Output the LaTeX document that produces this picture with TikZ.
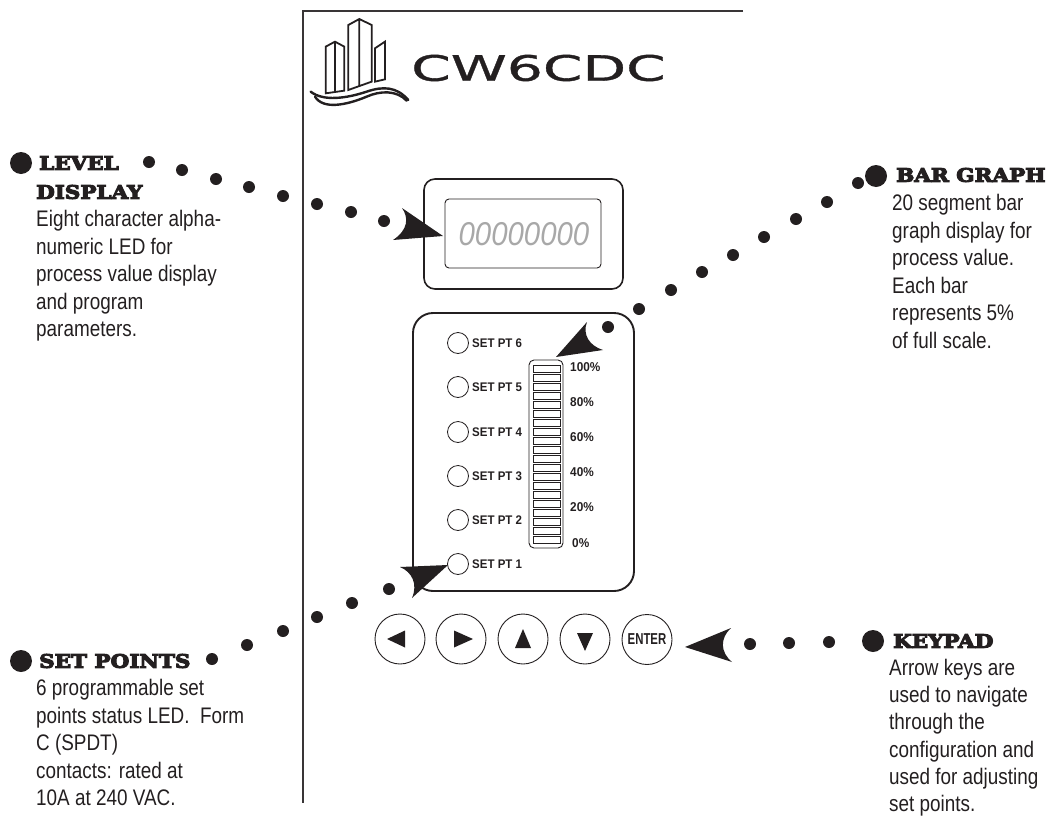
\documentclass[tikz,border=0pt]{standalone}
\usepackage{fontspec}
\setmainfont{Liberation Sans}
\newfontfamily\bodyfont[FakeStretch=0.84]{Liberation Sans}
\newfontfamily\headfont[FakeStretch=1.16,FakeBold=6]{DejaVu Serif Bold}
\newfontfamily\panelfont[FakeStretch=0.92]{Liberation Sans Bold}
\newfontfamily\enterfont[FakeStretch=0.72]{Liberation Sans Bold}
\newfontfamily\logofont[FakeStretch=1.62,FakeBold=1]{DejaVu Sans}
\newfontfamily\lcdfont[FakeStretch=0.89]{Liberation Sans Italic}
\definecolor{ink}{HTML}{231F20}
\definecolor{lcd}{HTML}{A8A8A8}
\tikzset{
  bodytext/.style={anchor=north west,inner sep=0pt,align=left,text=ink,font=\bodyfont\fontsize{22.5}{27.6}\selectfont},
  keybody/.style={anchor=north west,inner sep=0pt,align=left,text=ink,font=\bodyfont\fontsize{22.5}{27.2}\selectfont},
  headtext/.style={anchor=west,inner sep=0pt,text=ink,font=\headfont\fontsize{18.5}{20}\selectfont},
  smalldot/.style={circle,fill=ink,inner sep=0pt,minimum size=12pt},
  bigdot/.style={circle,fill=ink,inner sep=0pt,minimum size=22pt},
  ledlamp/.style={circle,draw=ink,line width=0.8pt,inner sep=0pt,minimum size=21pt},
  ledlabel/.style={anchor=west,inner sep=0pt,text=ink,font=\panelfont\fontsize{12.5}{13}\selectfont},
  pctlabel/.style={anchor=west,inner sep=0pt,text=ink,font=\panelfont\fontsize{12.8}{13}\selectfont},
  keyround/.style={circle,draw=ink,line width=0.9pt,inner sep=0pt,minimum size=50pt},
  barseg/.style={draw=ink,line width=0.8pt,fill=white},
  logoline/.style={draw=ink,line width=1.8pt,line join=miter},
  wave/.style={draw=ink,line width=2.4pt,line cap=round}
}
\begin{document}
\begin{tikzpicture}[x=1pt,y=-1pt]
\useasboundingbox (0,0) rectangle (1053,817);
\draw[ink!90,line width=1.3pt] (743,11) -- (303,11) -- (303,803);
% logo
\begin{scope}[xshift=290pt,x=0.3333pt,y=-0.3333pt]
\draw[logoline] (107,140) -- (135,125) -- (163,140) -- (163,272) -- (107,280) -- cycle (135,125) -- (135,277);
\draw[logoline] (175,75) -- (208,57) -- (245,75) -- (245,245) -- (175,270) -- cycle (208,57) -- (208,258);
\draw[logoline] (255,145) -- (285,125) -- (285,238) -- (255,245) -- cycle;
\draw[wave] (62,275) .. controls (100,305) and (170,295) .. (230,275) .. controls (280,258) and (320,260) .. (355,300);
\draw[wave] (75,290) .. controls (100,330) and (170,315) .. (230,290) .. controls (270,272) and (320,270) .. (350,302);
\end{scope}
\node[inner sep=0pt,text=ink,font=\logofont\fontsize{35}{36}\selectfont] (logo) at (538.5,68) {CW6CDC};
% display
\draw[ink,line width=1.6pt,rounded corners=11pt] (424,179) rectangle (623,289);
\draw[ink,line width=0.9pt,rounded corners=4pt] (445,199) rectangle (601,268);
\node[inner sep=0pt,text=lcd,font=\lcdfont\fontsize{33}{34}\selectfont] (lcdtext) at (524,234.5) {00000000};
% panel
\draw[ink,line width=1.9pt,rounded corners=20pt] (413,313) rectangle (634,591);
% LEDs
\foreach \n/\y in {6/343,5/387,4/432,3/476,2/520,1/564}{
  \node[ledlamp] (led\n) at (458,\y) {};
  \node[ledlabel] (ledtext\n) at (472,\y) {SET PT \n};
}
% bar
\draw[ink,line width=0.9pt,rounded corners=5pt] (529,360) rectangle (563,548);
\foreach \i in {0,...,19}{
  \draw[barseg] (533,{365+9*\i}) rectangle (560,{372.5+9*\i});
}
\node[pctlabel] (p100) at (570,367) {100\%};
\node[pctlabel] (p80) at (570,402) {80\%};
\node[pctlabel] (p60) at (570,437) {60\%};
\node[pctlabel] (p40) at (570,472) {40\%};
\node[pctlabel] (p20) at (570,507) {20\%};
\node[pctlabel] (p0) at (572,543) {0\%};
% keys
\node[keyround] (kl) at (400,639) {};
\node[keyround] (kr) at (461,639) {};
\node[keyround] (ku) at (523,639) {};
\node[keyround] (kd) at (585,639) {};
\node[keyround,text=ink,font=\enterfont\fontsize{15.8}{16}\selectfont] (ke) at (647,639.5) {ENTER};
\fill[ink] (387,639) -- (405,630.5) -- (405,647.5) -- cycle;
\fill[ink] (473,639) -- (454,630.5) -- (454,647.5) -- cycle;
\fill[ink] (523,629) -- (515,648) -- (531,648) -- cycle;
\fill[ink] (585,651) -- (577,633) -- (593,633) -- cycle;
% arrowheads
\fill[ink] (443,236) -- (402,208) .. controls (409,218) and (408,230) .. (393,240) -- cycle;
\fill[ink] (556,357) -- (587,322) .. controls (582,335) and (590,346) .. (603,350) -- cycle;
\fill[ink] (448,565) -- (400,567) .. controls (412,572) and (418,584) .. (412,598) -- cycle;
\fill[ink] (685,647) -- (731,628) .. controls (720,638) and (720,652) .. (732,662) -- cycle;
% level dots
\foreach \x/\y [count=\i] in {149/162,182/170,216/179,249/187,283/196,317/204,351/212,384/221}{
  \node[smalldot] (la\i) at (\x,\y) {};
}
% bar dots
\foreach \x/\y [count=\i] in {608/327,639/309,671/290,702/272,733/255,764/237,796/219,827/202,858/183}{
  \node[smalldot] (ba\i) at (\x,\y) {};
}
% set dots
\foreach \x/\y [count=\i] in {212/659,247/645,283/631,317/617,352/603,389/589}{
  \node[smalldot] (se\i) at (\x,\y) {};
}
% key dots
\foreach \x/\y [count=\i] in {750/644,789/643,829/642}{
  \node[smalldot] (kd\i) at (\x,\y) {};
}
\node[bigdot] (bl) at (21,163) {};
\node[bigdot] (bs) at (21,661) {};
\node[bigdot] (bb) at (876,176) {};
\node[bigdot] (bk) at (873,641) {};
% headings
\node[headtext] (h1) at (39,163) {LEVEL};
\node[headtext] (h2) at (36,192) {DISPLAY};
\node[headtext] (h3) at (39,661) {SET POINTS};
\node[headtext] (h4) at (896,175) {BAR GRAPH};
\node[headtext] (h5) at (893,641) {KEYPAD};
% bodies
\node[bodytext] (t1) at (36,210) {Eight character alpha-\\numeric LED for\\process value display\\and program\\parameters.};
\node[bodytext] (t2) at (36,679) {6 programmable set\\points status LED.\ \ Form\\C (SPDT)\\contacts: rated at\\10A at 240 VAC.};
\node[bodytext] (t3) at (892,194) {20 segment bar\\graph display for\\process value.\\Each bar\\represents 5\%\\of full scale.};
\node[keybody] (t4) at (889,659) {Arrow keys are\\used to navigate\\through the\\configuration and\\used for adjusting\\set points.};
\end{tikzpicture}
\end{document}
